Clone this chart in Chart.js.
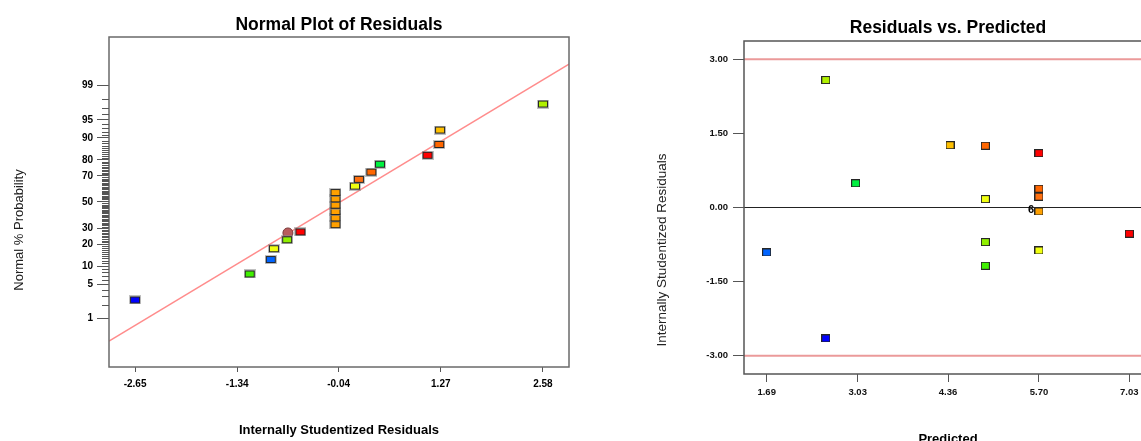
<!DOCTYPE html>
<html lang="en">
<head>
<meta charset="UTF-8">
<title>Residual diagnostics</title>
<script src="https://cdn.jsdelivr.net/npm/chart.js"></script>
<style>
  html, body { margin: 0; padding: 0; overflow: hidden; background: #fff; width: 1141px; height: 441px; }
  #left { position: absolute; left: 0; top: 0; width: 580px; height: 441px; }
  #right { position: absolute; left: 600px; top: 0; width: 570px; height: 460px; }
</style>
</head>
<body>
<div id="left"><canvas id="normalPlot"></canvas></div>
<div id="right"><canvas id="residPlot"></canvas></div>

<script>
// one entry per run, sorted by residual
const residuals  = [-2.65, -1.18, -0.91, -0.87, -0.70, -0.53, -0.08, -0.08, -0.08, -0.08, -0.08, -0.08, 0.17, 0.22, 0.38, 0.49, 1.10, 1.25, 1.26, 2.58];
const normalProb = [2.5, 7.5, 12.5, 17.5, 22.5, 27.5, 32.5, 37.5, 42.5, 47.5, 52.5, 57.5, 62.5, 67.5, 72.5, 77.5, 82.5, 87.5, 92.5, 97.5];
const predicted  = [2.56, 4.91, 1.69, 5.70, 4.91, 7.03, 5.70, 5.70, 5.70, 5.70, 5.70, 5.70, 4.91, 5.70, 5.70, 3.00, 5.70, 4.91, 4.39, 2.56];
const runColors  = ['#0000ff', '#40f000', '#0064ff', '#f0ff10', '#90f000', '#ff0000', '#ffa000', '#ffa000', '#ffa000', '#ffa000',
                    '#ffa000', '#ffa000', '#f0ff10', '#ff7010', '#ff6600', '#00f040', '#ff0000', '#ff6600', '#ffc000', '#b0f000'];

// half hidden round marker behind the run at 22.5 %
const extraResid = [-0.69];
const extraProb  = [26.8];

// fitted normal line (end points at the plot edges)
const fitLineX    = [-2.984, 2.914];
const fitLineProb = [0.27, 99.71];

const probTicks  = [1, 5, 10, 20, 30, 50, 70, 80, 90, 95, 99];
const residTicks = [-2.65, -1.34, -0.04, 1.27, 2.58];
const predTicks  = [1.69, 3.03, 4.36, 5.70, 7.03];
const studTicks  = [-3, -1.5, 0, 1.5, 3];
const limitLines = [-3, 3];

const residRange = [-2.984, 2.914];
const probRange  = [0.0483, 99.9517];
const predRange  = [1.356, 7.364];
const studRange  = [-3.37, 3.37];

const SANS = "'Liberation Sans', Arial, sans-serif";

// inverse normal cdf (Acklam)
function probit(p) {
  const a = [-39.69683028665376, 220.9460984245205, -275.9285104469687, 138.3577518672690, -30.66479806614716, 2.506628277459239];
  const b = [-54.47609879822406, 161.5858368580409, -155.6989798598866, 66.80131188771972, -13.28068155288572];
  const c = [-0.007784894002430293, -0.3223964580411365, -2.400758277161838, -2.549732539343734, 4.374664141464968, 2.938163982698783];
  const d = [0.007784695709041462, 0.3224671290700398, 2.445134137142996, 3.754408661907416];
  const lo = 0.02425;
  let q, r;
  if (p < lo) {
    q = Math.sqrt(-2 * Math.log(p));
    return (((((c[0]*q + c[1])*q + c[2])*q + c[3])*q + c[4])*q + c[5]) / ((((d[0]*q + d[1])*q + d[2])*q + d[3])*q + 1);
  }
  if (p > 1 - lo) {
    q = Math.sqrt(-2 * Math.log(1 - p));
    return -(((((c[0]*q + c[1])*q + c[2])*q + c[3])*q + c[4])*q + c[5]) / ((((d[0]*q + d[1])*q + d[2])*q + d[3])*q + 1);
  }
  q = p - 0.5; r = q * q;
  return (((((a[0]*r + a[1])*r + a[2])*r + a[3])*r + a[4])*r + a[5])*q / (((((b[0]*r + b[1])*r + b[2])*r + b[3])*r + b[4])*r + 1);
}
function normCdf(z) {
  const t = 1 / (1 + 0.2316419 * Math.abs(z));
  const y = 1 - 0.3989423 * Math.exp(-z * z / 2) * t * (0.3193815 + t * (-0.3565638 + t * (1.781478 + t * (-1.821256 + t * 1.330274))));
  return z >= 0 ? y : 1 - y;
}

// normal probability axis (values in %)
class ProbitScale extends Chart.Scale {
  determineDataLimits() {
    this.min = this.options.min;
    this.max = this.options.max;
  }
  buildTicks() {
    return probTicks.map(v => ({ value: v }));
  }
  configure() {
    super.configure();
    this._z0 = probit(this.min / 100);
    this._z1 = probit(this.max / 100);
  }
  getPixelForValue(v) {
    return this.getPixelForDecimal((probit(v / 100) - this._z0) / (this._z1 - this._z0));
  }
  getValueForPixel(px) {
    return 100 * normCdf(this._z0 + this.getDecimalForPixel(px) * (this._z1 - this._z0));
  }
}
ProbitScale.id = 'probit';
ProbitScale.defaults = {};
Chart.register(ProbitScale);

function boxMarker(fill, w, h, halo) {
  const pad = halo ? 1 : 0;
  const c = document.createElement('canvas');
  c.width = w + 2 * pad; c.height = h + 2 * pad;
  const g = c.getContext('2d');
  if (halo) { g.fillStyle = halo; g.fillRect(0, 0, c.width, c.height); }
  g.fillStyle = '#262626'; g.fillRect(pad, pad, w, h);
  g.fillStyle = fill; g.fillRect(pad + 1, pad + 1, w - 2, h - 2);
  return c;
}

const framePlugin = {
  id: 'frame',
  afterDatasetsDraw(chart, args, opts) {
    const a = chart.chartArea, ctx = chart.ctx;
    ctx.save();
    ctx.strokeStyle = opts.color; ctx.lineWidth = opts.width;
    ctx.strokeRect(a.left, a.top, a.right - a.left, a.bottom - a.top);
    ctx.restore();
  }
};

const yTitlePlugin = {
  id: 'yTitle',
  afterDraw(chart, args, opts) {
    const ctx = chart.ctx;
    ctx.save();
    ctx.translate(opts.x, opts.y);
    ctx.rotate(-Math.PI / 2);
    ctx.font = opts.font; ctx.fillStyle = opts.color;
    ctx.textAlign = 'center'; ctx.textBaseline = 'middle';
    ctx.fillText(opts.text, 0, 0);
    ctx.restore();
  }
};

// short unlabelled ticks at every whole percent
const minorTickPlugin = {
  id: 'minorTicks',
  afterDraw(chart, args, opts) {
    const s = chart.scales.y, ctx = chart.ctx, x0 = chart.chartArea.left;
    ctx.save();
    ctx.strokeStyle = opts.color; ctx.lineWidth = 1;
    ctx.beginPath();
    for (let v = 1; v <= 99; v++) {
      if (probTicks.includes(v)) continue;
      const y = Math.round(s.getPixelForValue(v)) + 0.5;
      ctx.moveTo(x0 - opts.length, y); ctx.lineTo(x0, y);
    }
    ctx.stroke();
    ctx.restore();
  }
};

// count label beside coincident runs
const stackLabelPlugin = {
  id: 'stackLabel',
  afterDatasetsDraw(chart, args, opts) {
    const meta = chart.getDatasetMeta(0), ctx = chart.ctx;
    const seen = {};
    predicted.forEach((p, i) => {
      const k = p + '|' + residuals[i];
      if (!seen[k]) seen[k] = { i, n: 0 };
      seen[k].n++;
    });
    ctx.save();
    ctx.font = opts.font; ctx.fillStyle = '#000';
    ctx.textAlign = 'right'; ctx.textBaseline = 'middle';
    Object.values(seen).forEach(s => {
      if (s.n < 2) return;
      const el = meta.data[s.i];
      ctx.fillText(String(s.n), el.x - 5, el.y - 1);
    });
    ctx.restore();
  }
};

const common = {
  responsive: true,
  maintainAspectRatio: false,
  animation: false,
  events: []
};

new Chart(document.getElementById('normalPlot'), {
  type: 'scatter',
  data: {
    datasets: [
      {
        data: residuals.map((r, i) => ({ x: r, y: normalProb[i] })),
        pointStyle: runColors.map(c => boxMarker(c, 10, 7, 'rgba(140,140,140,0.55)')),
        pointRadius: 5,
        order: 1
      },
      {
        data: extraResid.map((r, i) => ({ x: r, y: extraProb[i] })),
        pointStyle: 'circle',
        pointRadius: 5,
        backgroundColor: '#b85c5c',
        borderColor: '#7a3a3a',
        borderWidth: 1,
        order: 2
      },
      {
        data: fitLineX.map((x, i) => ({ x, y: fitLineProb[i] })),
        showLine: true,
        borderColor: '#ff8c8c',
        borderWidth: 1.5,
        pointRadius: 0,
        order: 3
      }
    ]
  },
  options: {
    ...common,
    layout: { padding: { left: 0, right: 11, top: 0, bottom: 0 } },
    plugins: {
      legend: { display: false },
      tooltip: { enabled: false },
      title: {
        display: true, text: 'Normal Plot of Residuals', fullSize: false, color: '#000',
        font: { family: SANS, size: 17.5, weight: 'bold', lineHeight: '24px' },
        padding: { top: 13, bottom: 0 }
      },
      frame: { color: '#6a6a6a', width: 1.5 },
      minorTicks: { color: '#555', length: 7 },
      yTitle: { text: 'Normal % Probability', x: 19, y: 230, font: '13px ' + SANS, color: '#222' }
    },
    scales: {
      x: {
        type: 'linear', min: residRange[0], max: residRange[1], bounds: 'data',
        afterBuildTicks: s => { s.ticks = residTicks.map(v => ({ value: v })); },
        afterFit: s => { s.height = 74; },
        ticks: { callback: v => v.toFixed(2), autoSkip: false, maxRotation: 0, padding: 6, color: '#000',
                 font: { family: SANS, size: 10, weight: 'bold' } },
        grid: { display: true, drawOnChartArea: false, drawTicks: true, tickLength: 5, color: '#555' },
        border: { display: false },
        title: { display: true, text: 'Internally Studentized Residuals', color: '#000',
                 font: { family: SANS, size: 13, weight: 'bold' }, padding: { top: 0, bottom: 3 } }
      },
      y: {
        type: 'probit', min: probRange[0], max: probRange[1],
        afterFit: s => { s.width = 109; },
        ticks: { padding: 4, color: '#000', autoSkip: false, font: { family: SANS, size: 10, weight: 'bold' } },
        grid: { display: true, drawOnChartArea: false, drawTicks: true, tickLength: 12, color: '#555' },
        border: { display: false }
      }
    }
  },
  plugins: [framePlugin, yTitlePlugin, minorTickPlugin]
});

new Chart(document.getElementById('residPlot'), {
  type: 'scatter',
  data: {
    datasets: [
      {
        data: predicted.map((p, i) => ({ x: p, y: residuals[i] })),
        pointStyle: runColors.map(c => boxMarker(c, 9, 8, null)),
        pointRadius: 5,
        order: 1
      },
      ...limitLines.map(v => ({
        data: predRange.map(x => ({ x, y: v })),
        showLine: true,
        borderColor: '#eb9a9a',
        borderWidth: 2,
        pointRadius: 0,
        order: 3
      })),
      {
        data: predRange.map(x => ({ x, y: 0 })),
        showLine: true,
        borderColor: '#222',
        borderWidth: 1,
        pointRadius: 0,
        order: 2
      }
    ]
  },
  options: {
    ...common,
    layout: { padding: { left: 0, right: 18, top: 0, bottom: 0 } },
    plugins: {
      legend: { display: false },
      tooltip: { enabled: false },
      title: {
        display: true, text: 'Residuals vs. Predicted', fullSize: false, color: '#000',
        font: { family: SANS, size: 17.5, weight: 'bold', lineHeight: '24px' },
        padding: { top: 16, bottom: 1 }
      },
      frame: { color: '#555', width: 1.5 },
      stackLabel: { font: 'bold 11px ' + SANS },
      yTitle: { text: 'Internally Studentized Residuals', x: 62, y: 250, font: '13.5px ' + SANS, color: '#222' }
    },
    scales: {
      x: {
        type: 'linear', min: predRange[0], max: predRange[1], bounds: 'data',
        afterBuildTicks: s => { s.ticks = predTicks.map(v => ({ value: v })); },
        afterFit: s => { s.height = 86; },
        ticks: { callback: v => v.toFixed(2), autoSkip: false, maxRotation: 0, padding: 5, color: '#111',
                 font: { family: SANS, size: 9.5, weight: 'bold' } },
        grid: { display: true, drawOnChartArea: false, drawTicks: true, tickLength: 8, color: '#555' },
        border: { display: false },
        title: { display: true, text: 'Predicted', color: '#000',
                 font: { family: SANS, size: 13, weight: 'bold' }, padding: { top: 0, bottom: 13 } }
      },
      y: {
        type: 'linear', min: studRange[0], max: studRange[1], bounds: 'data',
        afterBuildTicks: s => { s.ticks = studTicks.map(v => ({ value: v })); },
        afterFit: s => { s.width = 144; },
        ticks: { callback: v => v.toFixed(2), autoSkip: false, padding: 5, color: '#111',
                 font: { family: SANS, size: 9.5, weight: 'bold' } },
        grid: { display: true, drawOnChartArea: false, drawTicks: true, tickLength: 11, color: '#555' },
        border: { display: false }
      }
    }
  },
  plugins: [framePlugin, yTitlePlugin, stackLabelPlugin]
});
</script>
</body>
</html>
